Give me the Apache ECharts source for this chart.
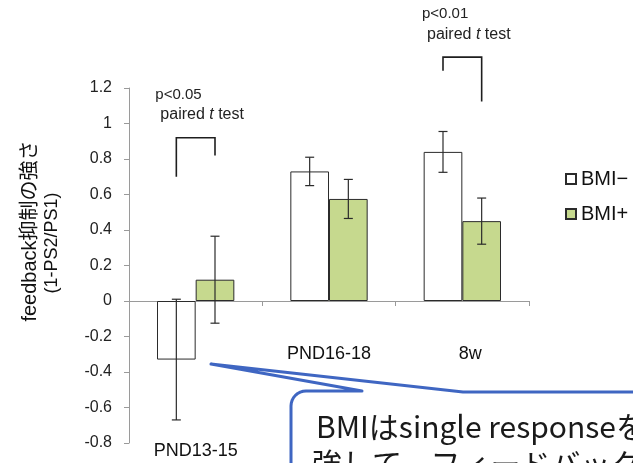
<!DOCTYPE html>
<html>
<head>
<meta charset="utf-8">
<script src="https://cdn.jsdelivr.net/npm/echarts@6/dist/echarts.min.js"></script>
<style>
  html, body { margin: 0; padding: 0; background: #fff; }
  #chart { width: 633px; height: 463px; }
</style>
</head>
<body>
<div id="chart"></div>
<script>
// Age groups on the x axis
const categories = ['PND13-15', 'PND16-18', '8w'];
// Mean feedback inhibition (1-PS2/PS1) and error bar half-widths
const bmiMinus = [-0.33, 0.73, 0.84];
const bmiMinusErr = [0.34, 0.08, 0.115];
const bmiPlus = [0.12, 0.575, 0.45];
const bmiPlusErr = [0.245, 0.11, 0.13];
// Significance brackets: [category, bracket top, left leg end, right leg end, p label]
const sigCats = [0, 2];
const sigTop = [0.92, 1.374];
const sigLeft = [0.70, 1.297];
const sigRight = [0.82, 1.124];
const sigText = ['p<0.05', 'p<0.01'];

const yMin = -0.8, yMax = 1.2, yStep = 0.2;

const seriesNames = ['BMI\u2212', 'BMI+'];
const greenFill = '#c6d98e';
const edge = '#2b2b2b';
const textFont = '"Liberation Sans", Arial, "Noto Sans CJK JP", sans-serif';
const gapRatio = 0.42;

// Plot area box; the category axis sits on the zero line inside it
const gridBox = { left: 129, right: 104, top: 88, bottom: 20 };
const plotH = 463 - gridBox.top - gridBox.bottom;
const zeroShift = plotH * (0 - yMin) / (yMax - yMin);

const chart = echarts.init(document.getElementById('chart'), null, { renderer: 'canvas' });

function barHalfOffset(api) {
  const band = api.size([1, 0])[0];
  return band * (1 - gapRatio) / 4;
}

function errorRenderer(sign) {
  return function (params, api) {
    const ci = api.value(0), v = api.value(1), e = api.value(2);
    const c = api.coord([ci, v]);
    const x = c[0] + sign * barHalfOffset(api);
    const yTop = api.coord([ci, v + e])[1];
    const yBot = api.coord([ci, v - e])[1];
    const cap = 4.5;
    const style = { stroke: edge, lineWidth: 1.2, fill: null };
    return {
      type: 'group',
      children: [
        { type: 'line', shape: { x1: x, y1: yTop, x2: x, y2: yBot }, style },
        { type: 'line', shape: { x1: x - cap, y1: yTop, x2: x + cap, y2: yTop }, style },
        { type: 'line', shape: { x1: x - cap, y1: yBot, x2: x + cap, y2: yBot }, style }
      ]
    };
  };
}

function sigRenderer(params, api) {
  const ci = api.value(0);
  const off = barHalfOffset(api);
  const cx = api.coord([ci, 0])[0];
  const xl = cx - off, xr = cx + off;
  const yt = api.coord([ci, api.value(1)])[1];
  const yl = api.coord([ci, api.value(2)])[1];
  const yr = api.coord([ci, api.value(3)])[1];
  return {
    type: 'group',
    children: [
      {
        type: 'polyline',
        shape: { points: [[xl, yl], [xl, yt], [xr, yt], [xr, yr]] },
        style: { stroke: '#1e1e1e', lineWidth: 1.6, fill: null }
      },
      {
        type: 'text',
        style: {
          x: xl - 21, y: yt - 43, text: sigText[params.dataIndex],
          font: '15px ' + textFont, fill: '#222', verticalAlign: 'middle', align: 'left'
        }
      },
      {
        type: 'text',
        style: {
          x: xl - 16, y: yt - 23,
          text: '{n|paired }{i|t}{n| test}',
          verticalAlign: 'middle', align: 'left',
          rich: {
            n: { fontSize: 16, fontFamily: textFont, fill: '#222' },
            i: { fontSize: 16, fontFamily: textFont, fontStyle: 'italic', fill: '#222' }
          }
        }
      }
    ]
  };
}

// Outline of the speech-bubble callout (rounded top-left corner)
const corner = [];
for (let k = 0; k <= 8; k++) {
  const a = Math.PI + (Math.PI / 2) * (k / 8);
  corner.push([306 + 15 * Math.cos(a), 406 + 15 * Math.sin(a)]);
}
const calloutPts = [[291, 480]].concat(corner, [[362, 391], [211, 364], [463, 392], [650, 392]]);

const option = {
  animation: false,
  backgroundColor: '#ffffff',
  grid: Object.assign({ containLabel: false, outerBoundsMode: 'none' }, gridBox),
  legend: {
    data: seriesNames,
    orient: 'vertical',
    left: 560,
    top: 164,
    itemWidth: 10,
    itemHeight: 10,
    itemGap: 15,
    icon: 'rect',
    textStyle: { fontSize: 20, color: '#111', fontFamily: textFont }
  },
  xAxis: {
    type: 'category',
    data: categories,
    position: 'bottom',
    offset: -zeroShift,
    axisLine: { onZero: false, lineStyle: { color: '#9a9a9a', width: 1 } },
    axisTick: { show: true, length: 5, lineStyle: { color: '#9a9a9a' } },
    axisLabel: {
      interval: 0,
      hideOverlap: false,
      margin: 44,
      fontSize: 18,
      color: '#111',
      fontFamily: textFont,
      formatter: function (v, i) {
        if (i === 0) return '{low|' + v + '}';
        if (i === 2) return '{right|' + v + '}';
        return v;
      },
      rich: {
        low: { fontSize: 18, color: '#111', fontFamily: textFont, padding: [97, 0, 0, 0] },
        right: { fontSize: 18, color: '#111', fontFamily: textFont, padding: [0, 0, 0, 16] }
      }
    },
    splitLine: { show: false }
  },
  yAxis: {
    type: 'value',
    min: yMin,
    max: yMax,
    interval: yStep,
    axisLine: { show: true, lineStyle: { color: '#9a9a9a', width: 1 } },
    axisTick: { show: true, length: 5, lineStyle: { color: '#9a9a9a' } },
    axisLabel: {
      fontSize: 16, color: '#222', fontFamily: textFont, margin: 17,
      formatter: function (v) { return String(Math.round(v * 10) / 10); }
    },
    splitLine: { show: false }
  },
  series: [
    {
      name: seriesNames[0],
      type: 'bar',
      data: bmiMinus,
      barGap: '0%',
      barCategoryGap: (gapRatio * 100) + '%',
      itemStyle: { color: '#ffffff', borderColor: edge, borderWidth: 1 },
      z: 2
    },
    {
      name: seriesNames[1],
      type: 'bar',
      data: bmiPlus,
      barGap: '0%',
      barCategoryGap: (gapRatio * 100) + '%',
      itemStyle: { color: greenFill, borderColor: edge, borderWidth: 1 },
      z: 2
    },
    {
      type: 'custom',
      renderItem: errorRenderer(-1),
      data: bmiMinus.map((v, i) => [i, v, bmiMinusErr[i]]),
      z: 5
    },
    {
      type: 'custom',
      renderItem: errorRenderer(1),
      data: bmiPlus.map((v, i) => [i, v, bmiPlusErr[i]]),
      z: 5
    },
    {
      type: 'custom',
      renderItem: sigRenderer,
      clip: false,
      data: sigCats.map((c, i) => [c, sigTop[i], sigLeft[i], sigRight[i]]),
      z: 5
    }
  ],
  graphic: [
    // Rotated y-axis title, two lines
    {
      type: 'text', x: 30, y: 231, rotation: Math.PI / 2,
      style: {
        text: 'feedback抑制の強さ', font: '20px ' + textFont, fill: '#111',
        align: 'center', verticalAlign: 'middle'
      }
    },
    {
      type: 'text', x: 52, y: 243, rotation: Math.PI / 2,
      style: {
        text: '(1-PS2/PS1)', font: '18px ' + textFont, fill: '#111',
        align: 'center', verticalAlign: 'middle'
      }
    },
    // Callout bubble: white body, then blue outline
    {
      type: 'polygon', z: 100,
      shape: { points: calloutPts.concat([[650, 480]]) },
      style: { fill: '#ffffff', stroke: null }
    },
    {
      type: 'polyline', z: 101,
      shape: { points: calloutPts },
      style: { stroke: '#3f66c2', lineWidth: 3, lineJoin: 'round', fill: null }
    },
    {
      type: 'text', z: 102, x: 316, y: 427,
      style: {
        text: 'BMIはsingle responseを', font: '30px "Noto Sans CJK JP", sans-serif',
        fill: '#1a1a1a', verticalAlign: 'middle', align: 'left'
      }
    },
    {
      type: 'text', z: 102, x: 312, y: 464,
      style: {
        text: '強して、フィードバック抑', font: '30px "Noto Sans CJK JP", sans-serif',
        fill: '#1a1a1a', verticalAlign: 'middle', align: 'left'
      }
    }
  ]
};

chart.setOption(option);
</script>
</body>
</html>
